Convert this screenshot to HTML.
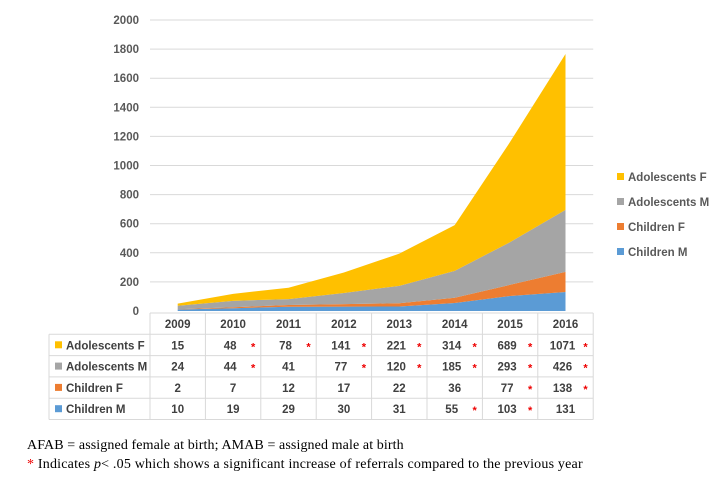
<!DOCTYPE html>
<html><head><meta charset="utf-8"><style>
body{margin:0;background:#fff;width:720px;height:483px;overflow:hidden;font-family:"Liberation Sans",sans-serif;}
svg text{font-family:"Liberation Sans",sans-serif;}
.note{position:absolute;left:27px;font-family:"Liberation Serif",serif;font-size:14px;color:#000;white-space:nowrap;}
</style></head><body>
<svg id="chart" width="720" height="483" style="position:absolute;left:0;top:0"></svg>
<div class="note" style="top:438px;letter-spacing:0.1px">AFAB = assigned female at birth; AMAB = assigned male at birth</div>
<div class="note" style="top:457px;letter-spacing:0.2px"><span style="color:#e00">*</span> Indicates <i>p</i>&lt; .05 which shows a significant increase of referrals compared to the previous year</div>
<script>
const years=["2009","2010","2011","2012","2013","2014","2015","2016"];
const childrenM=[10,19,29,30,31,55,103,131];
const childrenF=[2,7,12,17,22,36,77,138];
const adolM=[24,44,41,77,120,185,293,426];
const adolF=[15,48,78,141,221,314,689,1071];
const sigChildrenM=[0,0,0,0,0,1,1,0];
const sigChildrenF=[0,0,0,0,0,0,1,1];
const sigAdolM=[0,1,0,1,1,1,1,1];
const sigAdolF=[0,1,1,1,1,1,1,1];
const yTicks=[0,200,400,600,800,1000,1200,1400,1600,1800,2000];
const seriesNames=["Children M","Children F","Adolescents M","Adolescents F"];
const colors=["#5B9BD5","#ED7D31","#A5A5A5","#FFC000"];
const svg=document.getElementById('chart');
const NS="http://www.w3.org/2000/svg";
const x0=150,colW=55.4,yBase=311,yTop=20;
const xs=i=>x0+colW*(i+0.5);
const ys=v=>yBase-(v/2000)*(yBase-yTop);
function mk(t,a,p){const e=document.createElementNS(NS,t);for(const k in a)e.setAttribute(k,a[k]);(p||svg).appendChild(e);return e;}
yTicks.forEach(v=>{
 if(v>0){const l=mk('line',{x1:x0,x2:x0+colW*8,y1:ys(v),y2:ys(v),stroke:'#d9d9d9','stroke-width':1});
 }
 const t=mk('text',{x:139,y:ys(v)+4,'text-anchor':'end','font-size':11.5,'font-weight':'bold',fill:'#595959'});t.textContent=v;
 
});
const data=[childrenM,childrenF,adolM,adolF];
let cum=years.map(()=>0);
data.forEach((s,k)=>{
 const lower=cum.slice();cum=cum.map((c,i)=>c+s[i]);
 let d='M';years.forEach((_,i)=>d+=xs(i)+','+ys(cum[i])+' L');
 for(let i=years.length-1;i>=0;i--)d+=xs(i)+','+ys(lower[i])+(i?' L':' Z');
 const p=mk('path',{d:d,fill:colors[k]});
 
 
});
[3,2,1,0].forEach((k,j)=>{
 const y=177+j*25;
 const r=mk('rect',{x:617,y:y-4,width:7,height:7,fill:colors[k]});
 
 const t=mk('text',{x:628,y:y+4,'font-size':11.5,'font-weight':'bold',fill:'#595959'});t.textContent=seriesNames[k];
 
});
const tb=313,rh=21.3,lx=49;
const rowsN=4;
for(let r=0;r<=rowsN+1;r++){const y=tb+r*rh;const l=mk('line',{x1:r==0?x0:lx,x2:x0+colW*8,y1:y,y2:y,stroke:'#d9d9d9'});
 }
for(let c=0;c<=8;c++){const x=x0+c*colW;const l=mk('line',{x1:x,x2:x,y1:tb,y2:tb+rh*5,stroke:'#d9d9d9'});
 }
const l0=mk('line',{x1:lx,x2:lx,y1:tb+rh,y2:tb+rh*5,stroke:'#d9d9d9'});

years.forEach((yr,i)=>{const t=mk('text',{x:xs(i),y:tb+15,'text-anchor':'middle','font-size':11.5,'font-weight':'bold',fill:'#404040'});t.textContent=yr;
 });
const sigs=[sigChildrenM,sigChildrenF,sigAdolM,sigAdolF];
[3,2,1,0].forEach((k,r)=>{
 const y=tb+rh*(r+1)+15;
 const sw=mk('rect',{x:55,y:y-8,width:7,height:7,fill:colors[k]});
 const t=mk('text',{x:66,y:y,'font-size':11.5,'font-weight':'bold',fill:'#404040'});t.textContent=seriesNames[k];
 
 data[k].forEach((v,i)=>{
  const c=mk('text',{x:xs(i)+(sigs[k][i]?-3:0),y:y,'text-anchor':'middle','font-size':11.5,'font-weight':'bold',fill:'#404040'});c.textContent=v;
  
  if(sigs[k][i]){const s=mk('text',{x:xs(i)+20,y:y+1,'text-anchor':'middle','font-size':11,'font-weight':'bold',fill:'#e00'});s.textContent='*';
   }
 });
});
</script>
</body></html>
